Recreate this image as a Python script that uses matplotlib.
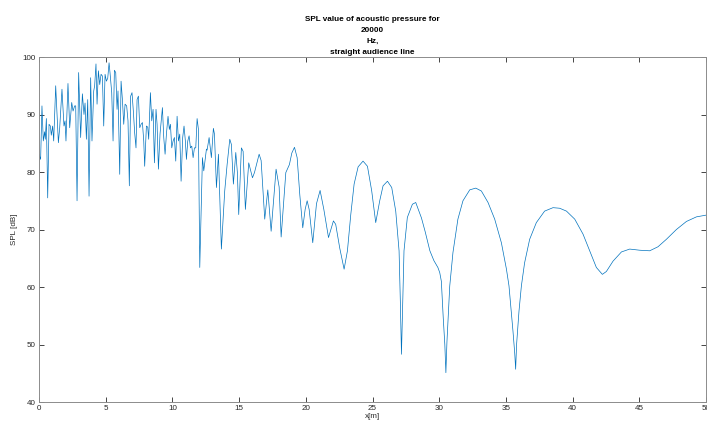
import matplotlib

matplotlib.use("Agg")

import matplotlib.pyplot as plt

# values: position along the audience line [m] and SPL [dB]
x_m = [
    0, 0.12, 0.22, 0.32, 0.42, 0.47, 0.55, 0.65, 0.75, 0.85, 0.92, 1.02, 1.1, 1.25, 1.45,
    1.55, 1.72, 1.87, 1.95, 2.02, 2.17, 2.3, 2.45, 2.55, 2.67, 2.75, 2.85, 2.97, 3.12,
    3.25, 3.37, 3.45, 3.55, 3.65, 3.75, 3.87, 3.97, 4.1, 4.17, 4.27, 4.35, 4.45, 4.55,
    4.65, 4.75, 4.85, 4.95, 5.05, 5.15, 5.25, 5.32, 5.45, 5.55, 5.65, 5.75, 5.85, 5.92,
    6.05, 6.15, 6.25, 6.35, 6.45, 6.57, 6.67, 6.77, 6.87, 6.97, 7.07, 7.17, 7.27, 7.35,
    7.45, 7.55, 7.65, 7.75, 7.85, 7.92, 8.05, 8.15, 8.22, 8.35, 8.45, 8.55, 8.65, 8.77,
    8.85, 8.95, 9.07, 9.25, 9.35, 9.45, 9.55, 9.67, 9.77, 9.85, 9.95, 10.05, 10.15,
    10.25, 10.35, 10.45, 10.55, 10.65, 10.77, 10.87, 10.97, 11.05, 11.15, 11.25, 11.35,
    11.45, 11.55, 11.65, 11.75, 11.85, 11.95, 12.05, 12.25, 12.35, 12.55, 12.6, 12.75,
    12.92, 13.07, 13.15, 13.3, 13.45, 13.67, 13.92, 14.1, 14.3, 14.42, 14.57, 14.75,
    14.87, 14.97, 15.17, 15.3, 15.47, 15.72, 16.0, 16.15, 16.5, 16.65, 16.92, 17.15,
    17.4, 17.77, 18.0, 18.15, 18.5, 18.77, 18.95, 19.15, 19.35, 19.55, 19.77, 19.95,
    20.1, 20.25, 20.52, 20.8, 21.07, 21.35, 21.7, 22.07, 22.24, 22.54, 22.87, 23.12,
    23.37, 23.62, 23.92, 24.29, 24.62, 24.94, 25.24, 25.54, 25.79, 26.12, 26.44, 26.74,
    26.99, 27.08, 27.17, 27.26, 27.36, 27.61, 27.99, 28.24, 28.67, 28.95, 29.3, 29.6,
    29.9, 30.04, 30.16, 30.3, 30.42, 30.5, 30.58, 30.79, 31.03, 31.4, 31.78, 32.29,
    32.74, 33.16, 33.66, 34.16, 34.66, 35.04, 35.23, 35.53, 35.66, 35.73, 35.8, 35.98,
    36.16, 36.4, 36.78, 37.28, 37.9, 38.53, 39.03, 39.54, 40.16, 40.78, 41.28, 41.78,
    42.23, 42.53, 43.03, 43.66, 44.28, 45.03, 45.78, 46.4, 47.03, 47.78, 48.53, 49.28,
    50.0,
]
spl_db = [
    83.1, 82.2, 91.5, 85.4, 87.0, 85.7, 89.3, 75.5, 88.3, 88.0, 86.4, 88.0, 85.4, 95.0, 85.1,
    87.7, 94.4, 88.0, 88.9, 85.4, 95.4, 87.7, 92.1, 90.6, 91.5, 91.5, 75.0, 97.3, 86.0,
    93.6, 90.0, 92.0, 85.7, 92.6, 75.8, 96.4, 85.4, 94.1, 95.0, 98.8, 91.8, 97.6, 95.2,
    97.0, 96.7, 88.0, 97.0, 95.8, 96.3, 99.0, 97.3, 93.8, 85.4, 97.7, 97.3, 90.9, 94.1,
    79.6, 95.8, 92.6, 88.3, 91.8, 91.5, 88.9, 77.6, 93.2, 93.8, 90.6, 86.8, 84.2, 92.6,
    93.2, 87.7, 88.3, 88.6, 85.4, 81.0, 88.0, 87.8, 85.7, 93.8, 88.9, 90.9, 81.6, 90.9,
    88.3, 80.5, 86.6, 91.2, 86.0, 83.1, 86.6, 89.7, 87.4, 88.3, 84.2, 85.4, 86.0,
    81.9, 89.7, 85.4, 86.6, 78.4, 86.0, 88.0, 85.4, 82.2, 85.4, 86.3, 84.2,
    84.5, 82.5, 84.2, 84.2, 89.3, 87.4, 63.4, 82.5, 80.2, 84.0, 83.8, 86.0,
    82.5, 87.6, 86.6, 77.3, 83.1, 66.6, 76.7, 81.3, 85.7, 84.8, 77.9, 83.4,
    79.9, 72.6, 84.2, 83.6, 73.5, 81.6, 79.0, 79.9, 83.1, 82.0, 71.8, 76.9,
    69.7, 80.5, 77.4, 68.7, 79.9, 81.3, 83.3, 84.3, 82.5, 76.0, 70.3, 73.5,
    75.0, 73.5, 67.7, 74.5, 76.8, 73.5, 68.6, 71.5, 70.9, 66.8, 63.1, 66.3,
    72.6, 77.9, 80.9, 81.9, 81.0, 76.7, 71.2, 75.0, 77.6, 78.4, 77.3, 73.2,
    66.3, 58.0, 48.3, 57.0, 66.3, 72.1, 74.4, 74.7, 72.0, 69.6, 66.3, 64.6,
    63.4, 62.5, 61.0, 54.7, 50.0, 45.1, 50.5, 60.2, 66.0, 71.8, 75.0, 76.9,
    77.2, 76.7, 74.7, 71.8, 67.7, 63.1, 60.2, 52.3, 48.5, 45.7, 50.0, 55.8,
    60.2, 64.2, 68.3, 71.2, 73.2, 73.8, 73.7, 73.2, 71.8, 69.2, 66.3, 63.4,
    62.2, 62.7, 64.5, 66.1, 66.6, 66.4, 66.3, 67.0, 68.3, 70.0, 71.4, 72.2,
    72.5,
]

x_ticks = [0, 5, 10, 15, 20, 25, 30, 35, 40, 45, 50]
y_ticks = [40, 50, 60, 70, 80, 90, 100]
title_lines = ["SPL value of acoustic pressure for", "20000", "Hz,", "straight audience line"]

plt.rcParams["font.family"] = ["Liberation Sans", "DejaVu Sans"]

fig = plt.figure(figsize=(7.07, 4.23), dpi=100)
ax = fig.add_axes([0.0552, 0.0496, 0.9434, 0.8156])

ax.plot(x_m, spl_db, color="#0072BD", lw=0.5)

ax.set_xlim(0, 50)
ax.set_ylim(40, 100)
ax.set_xticks(x_ticks)
ax.set_yticks(y_ticks)
ax.tick_params(direction="in", top=True, right=True, length=3.5, width=0.6,
               labelsize=5.8, colors="#262626", pad=2.5)
for side in ax.spines.values():
    side.set_color("#8c8c8c")
    side.set_linewidth(0.7)

ax.set_xlabel("x[m]", fontsize=5.8, color="#262626", labelpad=0.5)
ax.set_ylabel("SPL [dB]", fontsize=5.8, color="#262626", labelpad=3)
ax.set_title("\n".join(title_lines), fontsize=5.9, fontweight="bold",
             color="black", linespacing=1.8, pad=2.5)

fig.savefig("out.png", dpi=100)
plt.close(fig)
